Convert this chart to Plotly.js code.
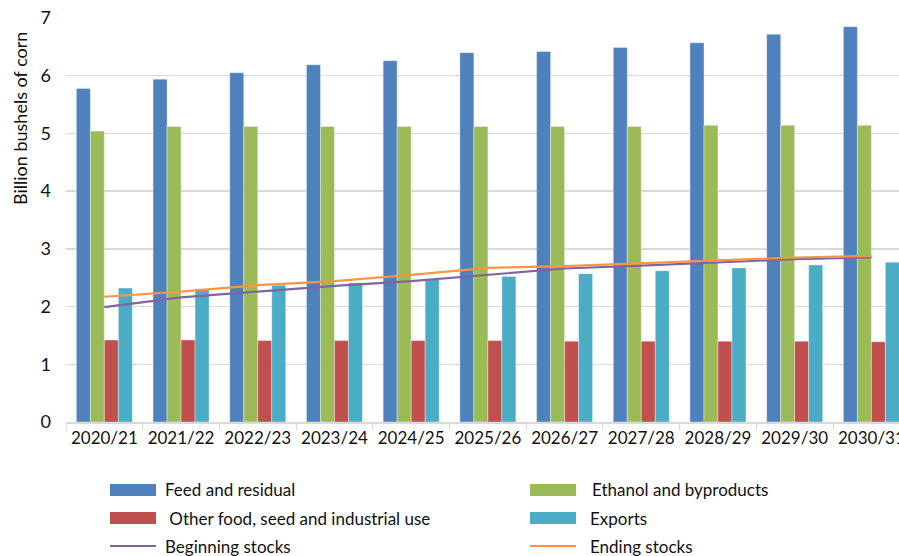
<!DOCTYPE html>
<html>
<head>
<meta charset="utf-8">
<script src="https://cdn.plot.ly/plotly-3.0.1.min.js"></script>
<style>html,body{margin:0;padding:0;background:#fff;}#chart{width:899px;height:556px;}</style>
</head>
<body>
<div id="chart"></div>
<script>
const categories = ["2020/21","2021/22","2022/23","2023/24","2024/25","2025/26","2026/27","2027/28","2028/29","2029/30","2030/31"];
const feedResidual = [5.78, 5.94, 6.05, 6.19, 6.26, 6.40, 6.42, 6.49, 6.57, 6.72, 6.85];
const ethanol = [5.04, 5.12, 5.12, 5.12, 5.12, 5.12, 5.12, 5.12, 5.14, 5.14, 5.14];
const otherFood = [1.42, 1.42, 1.41, 1.41, 1.41, 1.41, 1.40, 1.40, 1.40, 1.40, 1.39];
const exportsVals = [2.32, 2.31, 2.37, 2.41, 2.47, 2.52, 2.57, 2.62, 2.67, 2.72, 2.77];
const beginningStocks = [1.99, 2.16, 2.26, 2.36, 2.44, 2.55, 2.66, 2.71, 2.77, 2.82, 2.85];
const endingStocks = [2.17, 2.26, 2.37, 2.44, 2.55, 2.67, 2.70, 2.75, 2.81, 2.85, 2.88];
const seriesNames = ["Feed and residual", "Ethanol and byproducts", " Other food, seed and industrial use", "Exports", "Beginning stocks", "Ending stocks"];
const yTitle = "Billion bushels of corn";

const colors = ["#4F81BD", "#9BBB59", "#C0504D", "#4BACC6", "#8064A2", "#F79646"];
const barData = [feedResidual, ethanol, otherFood, exportsVals];
const lineData = [beginningStocks, endingStocks];

const traces = [];
barData.forEach((vals, i) => {
  traces.push({type: "bar", x: categories, y: vals, name: seriesNames[i],
    marker: {color: colors[i], line: {color: "rgba(255,255,255,0.6)", width: 0.6}}, showlegend: false});
});
lineData.forEach((vals, i) => {
  traces.push({type: "scatter", mode: "lines", x: categories, y: vals, name: seriesNames[4 + i],
    line: {color: colors[4 + i], width: 2.2}, showlegend: false});
});

const L = 66, R = 899, T = 18, B = 422;
const px = v => (v - L) / (R - L);
const py = v => (B - v) / (B - T);
const FONT = "Lato, 'Open Sans', sans-serif";

const shapes = [], annotations = [];
const legendPos = [
  {sx: 110, tx: 163, y: 490}, {sx: 530, tx: 590, y: 490},
  {sx: 110, tx: 163, y: 518}, {sx: 530, tx: 588, y: 518},
  {sx: 110, tx: 163, y: 546}, {sx: 530, tx: 588, y: 546}
];
legendPos.forEach((p, i) => {
  if (i < 4) {
    shapes.push({type: "rect", xref: "paper", yref: "paper", x0: px(p.sx), x1: px(p.sx + 46), y0: py(p.y - 6), y1: py(p.y + 6),
      fillcolor: colors[i], line: {width: 0}});
  } else {
    shapes.push({type: "line", xref: "paper", yref: "paper", x0: px(p.sx), x1: px(p.sx + 46), y0: py(p.y), y1: py(p.y),
      line: {color: colors[i], width: 2}});
  }
  annotations.push({xref: "paper", yref: "paper", x: px(p.tx), y: py(p.y), xanchor: "left", yanchor: "middle",
    text: seriesNames[i], showarrow: false, font: {family: FONT, size: 17, color: "#111"}});
});
annotations.push({xref: "paper", yref: "paper", x: px(20), y: py(119), xanchor: "center", yanchor: "middle",
  text: yTitle, textangle: -90, showarrow: false, font: {family: FONT, size: 18, color: "#111"}});

const layout = {
  width: 899, height: 556,
  margin: {l: L, r: 0, t: T, b: 556 - B},
  paper_bgcolor: "#fff", plot_bgcolor: "#fff",
  barmode: "group", bargap: 0.27, bargroupgap: 0,
  font: {family: FONT, size: 16, color: "#111"},
  showlegend: false,
  xaxis: {type: "category", range: [-0.5, 10.36], showgrid: false, showline: true, linecolor: "#d9d9d9", linewidth: 1.5,
    ticks: "outside", tickson: "boundaries", ticklen: 6, tickcolor: "#d9d9d9", tickfont: {size: 17}, fixedrange: true, automargin: false},
  yaxis: {range: [0, 7], dtick: 1, showgrid: true, gridcolor: "#d9d9d9", gridwidth: 1.3, zeroline: false, showline: false,
    ticks: "", ticklabelstandoff: 14, tickfont: {size: 18}, automargin: false},
  shapes: shapes,
  annotations: annotations
};

Plotly.newPlot("chart", traces, layout, {displayModeBar: false, staticPlot: true});
</script>
</body>
</html>
